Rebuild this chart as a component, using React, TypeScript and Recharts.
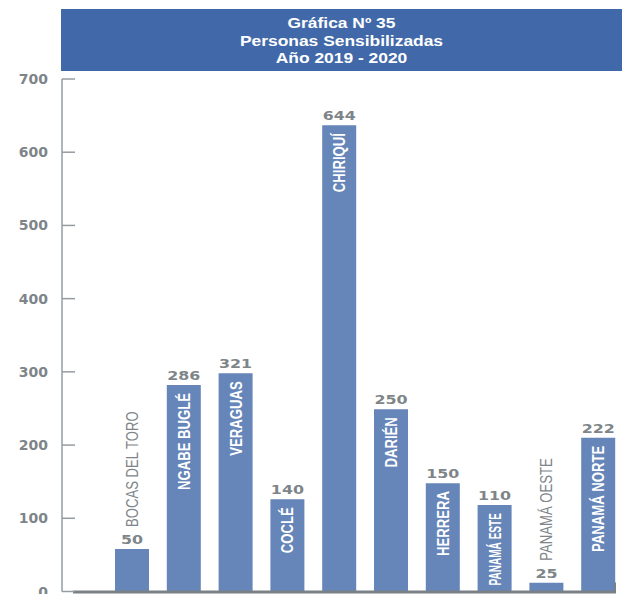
import React from "react";
import { BarChart, Bar, XAxis, YAxis, LabelList, ReferenceLine } from "recharts";

const titleLines = ["Gráfica Nº 35", "Personas Sensibilizadas", "Año 2019 - 2020"];

const regions = [
  "BOCAS DEL TORO",
  "NGABE BUGLÉ",
  "VERAGUAS",
  "COCLÉ",
  "CHIRIQUÍ",
  "DARIÉN",
  "HERRERA",
  "PANAMÁ ESTE",
  "PANAMÁ OESTE",
  "PANAMÁ NORTE",
];

// bar heights as drawn in the picture (they do not always match the printed numbers)
const barHeights = [58, 282, 298, 126, 637, 249, 148, 118, 12, 210];

// numbers printed above the bars
const printedValues = ["50", "286", "321", "140", "644", "250", "150", "110", "25", "222"];

const yTicks = [0, 100, 200, 300, 400, 500, 600, 700];

const data = regions.map((region, i) => ({
  region,
  value: barHeights[i],
  label: printedValues[i],
}));

const GRAY = "#7e8589";
const AXIS_GRAY = "#959ca0";
const SANS = "'Liberation Sans', Arial, sans-serif";
const NARROW_X = 0.82; // squeeze Arial-like glyphs into a narrow face

let ctx: CanvasRenderingContext2D | null = null;
const measure = (text: string, font: string) => {
  if (!ctx) ctx = document.createElement("canvas").getContext("2d");
  if (!ctx) return text.length * 9;
  ctx.font = font;
  return ctx.measureText(text).width;
};

const YTick = (props: any) => {
  const { x, y, payload } = props;
  const axisX = x + 14;
  return (
    <g>
      <line x1={axisX} x2={axisX + 13} y1={y} y2={y} stroke={AXIS_GRAY} strokeWidth={1.5} />
      <text
        x={x}
        y={y}
        dy={5}
        textAnchor="end"
        fill={GRAY}
        fontFamily="'DejaVu Sans', sans-serif"
        fontWeight="bold"
        fontSize={14}
      >
        {payload.value}
      </text>
    </g>
  );
};

const BarLabel = (props: any) => {
  const box = props.viewBox ?? props;
  const { x, y, width, height } = box;
  const d = data[props.index];
  if (!d) return null;
  const cx = x + width / 2;
  const inside = height >= 60;
  const nameFont = inside ? `bold 16px ${SANS}` : `16px ${SANS}`;
  const natural = measure(d.region, nameFont);
  const room = (height - 14) / NARROW_X;
  const squeeze = inside && natural > room;

  return (
    <g>
      <text
        transform={`translate(${cx},${y - 5}) scale(1.27,1)`}
        textAnchor="middle"
        fill={GRAY}
        fontFamily="'DejaVu Sans', sans-serif"
        fontWeight="bold"
        fontSize={12.5}
      >
        {d.label}
      </text>
      {inside ? (
        <text
          transform={`translate(${cx + 6},${y + 8}) rotate(-90) scale(${NARROW_X},1)`}
          textAnchor="end"
          fill="#ffffff"
          fontFamily={SANS}
          fontWeight="bold"
          fontSize={16}
          textLength={squeeze ? room : undefined}
          lengthAdjust={squeeze ? "spacingAndGlyphs" : undefined}
        >
          {d.region}
        </text>
      ) : (
        <text
          transform={`translate(${cx + 6},${y - 22}) rotate(-90) scale(${NARROW_X},1)`}
          textAnchor="start"
          fill={GRAY}
          fontFamily={SANS}
          fontSize={16}
        >
          {d.region}
        </text>
      )}
    </g>
  );
};

const BaseLine = (props: any) => {
  const { x1, x2, y1 } = props;
  if (x1 == null) return null;
  return (
    <g>
      <line x1={x1 + 11} x2={x2} y1={y1 + 0.5} y2={y1 + 0.5} stroke="#7a8186" strokeWidth={3} />
      <line x1={x2 - 1} x2={x2 - 1} y1={y1 - 9} y2={y1} stroke="#7a8186" strokeWidth={2} />
    </g>
  );
};

export default function App() {
  return (
    <div style={{ position: "relative", width: 622, height: 586 }}>
      <style>{"html,body{overflow:hidden}"}</style>
      <div
        style={{
          position: "absolute",
          left: 53,
          top: 1,
          width: 569,
          height: 62,
          background: "#4169a9",
        }}
      >
        <div
          style={{
            paddingTop: 6,
            textAlign: "center",
            color: "#ffffff",
            fontFamily: SANS,
            fontWeight: "bold",
            fontSize: 14.5,
            lineHeight: "17.5px",
            transform: "translateX(-4px) scaleX(1.2)",
          }}
        >
          {titleLines.map((t) => (
            <div key={t}>{t}</div>
          ))}
        </div>
      </div>
      <BarChart
        width={614}
        height={586}
        data={data}
        margin={{ top: 71, right: 6, left: 0, bottom: 2.5 }}
      >
        <XAxis dataKey="region" hide padding={{ left: 44, right: -8 }} />
        <YAxis
          width={54}
          domain={[0, 700]}
          ticks={yTicks}
          interval={0}
          tickSize={6}
          tickMargin={8}
          tickLine={false}
          axisLine={{ stroke: AXIS_GRAY, strokeWidth: 1.5 }}
          tick={<YTick />}
        />
        <Bar dataKey="value" fill="#6686b9" barSize={34} isAnimationActive={false}>
          <LabelList dataKey="value" content={<BarLabel />} />
        </Bar>
        <ReferenceLine y={0} shape={<BaseLine />} />
      </BarChart>
    </div>
  );
}
